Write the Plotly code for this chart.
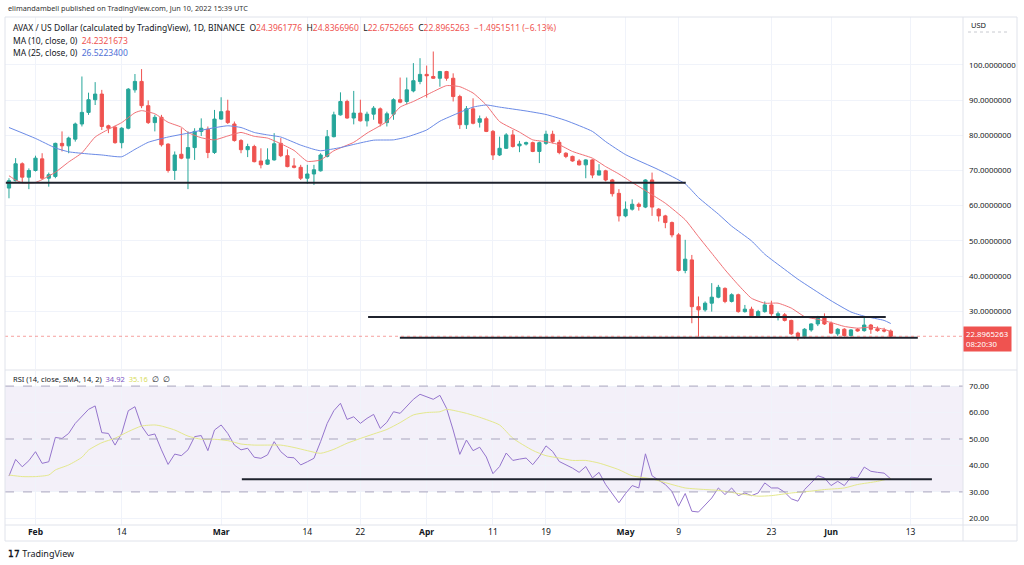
import pandas as pd
import plotly.graph_objects as go

# daily candles, Jan 28 - Jun 10 2022
dates = pd.date_range("2022-01-28", periods=134, freq="D")

opens = [65.0, 67.1, 71.9, 68.1, 70.0, 73.3, 67.8, 68.3, 77.7, 77.0,
         78.9, 83.2, 86.5, 90.1, 91.7, 82.7, 82.3, 77.9, 82.0, 92.9,
         95.3, 88.4, 83.6, 85.1, 77.5, 70.0, 74.6, 73.5, 76.5, 81.1,
         81.7, 75.1, 84.6, 86.9, 83.2, 78.5, 75.9, 76.8, 72.7, 71.8,
         73.0, 77.7, 74.2, 71.3, 70.9, 67.8, 69.0, 69.9, 74.0, 79.6,
         85.8, 89.6, 84.9, 86.3, 84.1, 86.0, 87.5, 83.6, 86.0, 90.1,
         89.6, 92.6, 95.3, 97.3, 96.7, 96.2, 98.1, 96.2, 91.0, 83.0,
         87.5, 83.7, 84.7, 81.1, 74.4, 76.3, 80.1, 77.0, 77.5, 77.9,
         75.4, 77.7, 80.3, 78.0, 74.9, 74.0, 72.7, 71.6, 73.0, 68.7,
         69.9, 67.3, 63.5, 57.1, 59.0, 60.4, 59.6, 67.3, 59.0, 57.1,
         55.2, 51.7, 41.6, 44.6, 31.3, 30.4, 32.3, 34.0, 36.5, 32.8,
         34.7, 29.9, 30.6, 28.7, 29.9, 31.8, 28.8, 29.0, 27.4, 23.8,
         22.8, 24.7, 26.4, 28.3, 26.6, 23.6, 24.9, 23.1, 24.9, 24.5,
         26.1, 25.0, 24.6, 24.3961776]
highs = [67.8, 73.5, 72.3, 70.6, 74.2, 74.9, 69.4, 77.9, 81.1, 79.6,
         83.6, 96.7, 92.1, 95.1, 92.9, 83.0, 82.7, 82.3, 93.4, 97.4,
         98.8, 89.9, 85.8, 85.8, 77.7, 75.4, 82.0, 81.1, 82.0, 84.8,
         82.5, 87.2, 90.8, 90.1, 83.9, 78.9, 77.6, 77.3, 76.3, 76.3,
         80.6, 79.2, 76.0, 73.5, 71.6, 71.6, 71.6, 74.9, 81.5, 86.7,
         92.2, 90.1, 92.6, 90.1, 86.7, 88.3, 87.9, 86.7, 90.5, 96.4,
         96.4, 100.5, 101.9, 99.8, 103.8, 98.3, 98.3, 97.6, 91.5, 88.3,
         90.5, 85.6, 85.3, 81.5, 79.6, 80.6, 81.5, 78.4, 78.2, 78.2,
         78.2, 81.3, 81.3, 78.7, 75.2, 74.2, 73.2, 73.2, 73.2, 71.8,
         70.2, 67.6, 64.7, 61.2, 61.8, 60.9, 67.5, 69.4, 59.3, 57.4,
         55.5, 52.2, 50.3, 46.0, 34.2, 32.8, 38.0, 37.5, 36.8, 35.1,
         35.0, 31.8, 31.3, 30.4, 32.8, 33.0, 29.9, 29.5, 27.6, 24.2,
         25.2, 26.6, 28.7, 29.4, 27.1, 25.2, 25.2, 24.9, 25.2, 28.5,
         26.4, 25.7, 25.3, 24.8366960]
lows = [62.1, 66.9, 66.6, 64.7, 69.7, 67.5, 65.4, 67.8, 75.4, 74.9,
        78.2, 82.5, 85.8, 88.6, 81.5, 80.6, 77.6, 76.3, 81.7, 92.1,
        87.7, 83.2, 81.1, 76.8, 69.4, 67.3, 73.2, 64.7, 73.0, 79.8,
        73.5, 74.7, 84.4, 83.2, 78.2, 74.9, 73.8, 72.3, 70.6, 71.6,
        72.8, 73.8, 70.9, 70.6, 67.3, 66.2, 65.9, 69.7, 73.7, 79.4,
        85.6, 84.7, 83.1, 83.9, 82.5, 84.4, 82.5, 82.5, 84.4, 89.1,
        88.8, 92.2, 94.5, 90.7, 96.0, 93.8, 95.5, 89.6, 81.8, 81.8,
        83.1, 82.2, 80.9, 73.0, 74.1, 76.1, 76.5, 75.2, 77.1, 75.2,
        72.1, 77.3, 77.7, 74.6, 73.5, 72.5, 71.4, 67.8, 67.8, 68.6,
        66.9, 62.6, 55.5, 56.7, 58.6, 58.6, 59.3, 57.1, 55.5, 53.6,
        51.0, 41.3, 40.8, 26.6, 22.8, 29.9, 29.9, 33.7, 32.3, 32.5,
        29.6, 29.6, 28.3, 28.5, 29.6, 28.7, 27.4, 27.1, 23.3, 21.7,
        22.3, 24.2, 25.8, 26.1, 23.6, 23.0, 22.8, 22.8, 24.2, 24.2,
        23.6, 24.2, 24.0, 22.6752665]
closes = [67.1, 71.9, 68.1, 70.0, 73.5, 67.8, 68.8, 77.7, 77.0, 79.2,
          83.2, 86.5, 90.1, 91.7, 82.5, 82.0, 77.9, 82.0, 93.1, 95.3,
          88.4, 83.6, 85.1, 77.3, 70.0, 74.4, 73.5, 76.5, 81.1, 82.0,
          75.1, 84.6, 86.7, 83.6, 78.5, 75.9, 76.8, 72.5, 71.6, 73.0,
          77.6, 74.2, 71.1, 70.9, 67.8, 69.0, 70.2, 74.4, 79.6, 85.8,
          89.6, 84.9, 86.3, 84.1, 86.0, 87.7, 83.4, 86.1, 90.1, 89.4,
          92.9, 95.5, 97.3, 96.9, 96.2, 98.1, 96.2, 91.0, 83.0, 87.5,
          83.4, 84.7, 81.1, 74.4, 76.3, 80.1, 76.8, 77.5, 77.9, 75.4,
          77.9, 80.3, 78.2, 75.1, 74.0, 72.7, 71.6, 73.0, 68.7, 69.9,
          67.3, 63.4, 57.1, 59.0, 60.4, 59.8, 67.3, 59.6, 57.1, 55.2,
          51.7, 41.6, 44.8, 31.3, 30.4, 32.3, 34.0, 36.8, 32.8, 34.7,
          29.9, 30.6, 28.7, 29.9, 31.8, 29.3, 29.3, 27.4, 23.6, 22.8,
          24.9, 26.4, 28.3, 26.4, 23.8, 24.9, 23.1, 24.7, 24.4, 26.1,
          24.9, 24.5, 24.4, 22.8965263]

# moving averages: (day index, value)
ma10_day = [0, 1, 2, 4, 5, 7, 9, 11, 13, 15, 17, 19, 20, 22, 24, 26, 27, 29, 31, 33,
            35, 37, 39, 41, 43, 45, 47, 49, 52, 54, 57, 59, 61, 64, 66, 68, 70, 72, 74, 77,
            79, 81, 83, 85, 88, 90, 92, 94, 97, 99, 102, 104, 106, 108, 110, 112, 114, 116,
            118, 120, 122, 124, 126, 128, 130, 132, 133]
ma10_val = [68.5, 67.3, 66.5, 66.6, 67.4, 69.5, 72.4, 75.0, 79.5, 81.7, 83.6, 86.4, 87.0,
            86.1, 83.7, 82.3, 80.8, 79.3, 78.7, 79.8, 80.8, 79.7, 79.2, 77.6, 75.7, 72.6,
            73.0, 75.6, 78.0, 80.6, 83.9, 88.0, 89.6, 92.4, 94.1, 93.8, 92.0, 88.6, 83.9,
            80.9, 78.7, 78.2, 77.3, 75.4, 73.5, 71.1, 69.0, 66.6, 63.1, 60.7, 56.0, 51.2,
            46.5, 41.8, 37.5, 33.7, 32.3, 32.3, 30.9, 28.5, 27.7, 26.8, 25.7, 25.2, 25.5,
            24.9, 24.23]
ma25_day = [0, 4, 7, 9, 12, 14, 17, 19, 21, 24, 27, 30, 33, 35, 37, 39, 41, 44, 46, 47,
            50, 52, 55, 58, 60, 63, 65, 68, 70, 72, 74, 78, 81, 84, 88, 90, 93, 98, 102, 104,
            107, 109, 112, 114, 117, 119, 122, 124, 127, 129, 132, 133]
ma25_val = [82.2, 79.1, 76.4, 75.3, 74.7, 74.4, 73.9, 76.0, 78.0, 79.5, 80.6, 81.8, 82.7,
            82.2, 80.8, 80.1, 79.5, 77.2, 76.0, 75.6, 76.5, 77.4, 78.6, 78.7, 79.5, 81.5,
            84.0, 86.5, 88.0, 88.6, 88.0, 86.9, 85.9, 84.2, 81.1, 78.2, 74.5, 70.2, 66.2,
            62.3, 57.6, 54.2, 50.0, 46.2, 41.9, 39.1, 35.4, 33.0, 29.8, 28.6, 27.4, 26.52]

# RSI(14) per day and its SMA(14) samples
rsi = [36.0, 42.3, 39.5, 41.8, 45.2, 40.8, 41.4, 50.6, 50.2, 52.1,
       55.9, 58.4, 61.2, 62.5, 52.4, 52.1, 47.7, 52.1, 60.7, 62.2,
       54.9, 51.3, 51.9, 45.9, 40.4, 44.3, 43.7, 45.9, 50.9, 51.3,
       45.6, 53.4, 55.3, 52.1, 47.7, 45.9, 46.5, 43.1, 42.7, 44.0,
       49.0, 45.2, 43.1, 42.9, 40.2, 41.4, 42.7, 49.0, 55.9, 60.7,
       63.5, 57.4, 58.4, 55.9, 57.8, 59.3, 54.0, 56.3, 60.3, 59.7,
       62.2, 65.0, 66.9, 66.0, 65.0, 66.5, 61.6, 53.4, 44.2, 49.6,
       45.6, 46.9, 43.2, 36.9, 39.6, 44.7, 41.9, 42.4, 42.8, 40.3,
       43.4, 47.4, 45.3, 41.5, 40.3, 39.0, 37.4, 39.6, 35.3, 37.4,
       32.8, 29.4, 25.9, 29.4, 32.4, 31.5, 44.4, 36.1, 34.6, 32.8,
       30.2, 24.6, 29.4, 22.7, 22.4, 25.2, 27.7, 31.5, 29.0, 31.5,
       28.6, 29.6, 28.6, 29.6, 33.4, 31.5, 31.5, 29.9, 27.4, 26.5,
       30.9, 33.4, 36.1, 35.3, 32.4, 34.0, 32.4, 35.6, 35.3, 39.4,
       37.8, 37.4, 37.1, 34.92]
rsi_ma_day = [0, 2, 4, 6, 7, 9, 11, 12, 14, 16, 18, 20, 22, 23, 25, 27, 29, 31, 33, 35,
              37, 39, 41, 43, 45, 47, 49, 51, 53, 55, 57, 59, 61, 63, 65, 66, 68, 69, 71, 74,
              76, 79, 81, 83, 85, 87, 89, 92, 94, 97, 100, 102, 105, 107, 110, 113, 115, 118,
              121, 123, 126, 128, 131, 133]
rsi_ma_val = [36.4, 35.8, 35.8, 36.4, 38.3, 40.2, 43.1, 45.8, 48.6, 50.3, 52.8, 54.9, 55.3,
              54.9, 53.4, 51.1, 49.9, 49.9, 49.4, 48.1, 47.7, 47.7, 47.7, 46.8, 45.6, 44.6,
              46.1, 48.4, 50.2, 51.9, 53.6, 56.2, 59.1, 60.0, 60.3, 61.2, 60.3, 59.7, 58.2,
              55.3, 50.3, 45.7, 43.7, 42.8, 41.9, 41.9, 40.9, 38.4, 36.1, 34.9, 32.8, 31.5,
              30.9, 30.6, 29.4, 28.4, 28.6, 29.6, 30.3, 30.9, 31.5, 32.8, 34.0, 35.16]

# hand-drawn horizontal levels
price_levels = [66.5, 28.4, 22.5]
price_level_start = ["2022-01-27 12:00", "2022-03-23 04:00", "2022-03-27 23:00"]
price_level_end = ["2022-05-10 02:00", "2022-06-09 06:00", "2022-06-14 02:00"]
rsi_level = 34.8
rsi_level_start, rsi_level_end = "2022-03-04 03:00", "2022-06-16 05:00"

price_ticks = [30, 40, 50, 60, 70, 80, 90, 100]
rsi_ticks = [20, 30, 40, 50, 60, 70]
date_ticks = ["2022-02-01", "2022-02-14", "2022-03-01", "2022-03-14", "2022-03-22",
              "2022-04-01", "2022-04-11", "2022-04-19", "2022-05-01", "2022-05-09",
              "2022-05-23", "2022-06-01", "2022-06-13"]
date_labels = ["<b>Feb</b>", "14", "<b>Mar</b>", "14", "22", "<b>Apr</b>", "11", "19",
               "<b>May</b>", "9", "23", "<b>Jun</b>", "13"]

UP, DOWN = "#26a69a", "#ef5350"
GRID = "#f0f3fa"
BORDER = "#e0e3eb"
TXT = "#131722"
FONT = "Noto Sans"
W, H = 1024, 565


def px(x):
    return x / W


def py(y):
    return 1 - y / H


fig = go.Figure()

fig.add_trace(go.Candlestick(
    x=dates, open=opens, high=highs, low=lows, close=closes,
    increasing=dict(line=dict(color=UP, width=1), fillcolor=UP),
    decreasing=dict(line=dict(color=DOWN, width=1), fillcolor=DOWN),
    whiskerwidth=0, xaxis="x", yaxis="y", showlegend=False, hoverinfo="skip"))

fig.add_trace(go.Scatter(x=[dates[d] for d in ma10_day], y=ma10_val, mode="lines",
                         line=dict(color="#f07075", width=1, shape="spline", smoothing=0.5),
                         xaxis="x", yaxis="y", showlegend=False, hoverinfo="skip"))
fig.add_trace(go.Scatter(x=[dates[d] for d in ma25_day], y=ma25_val, mode="lines",
                         line=dict(color="#6a8ae6", width=1, shape="spline", smoothing=0.5),
                         xaxis="x", yaxis="y", showlegend=False, hoverinfo="skip"))

for lvl, x0, x1 in zip(price_levels, price_level_start, price_level_end):
    fig.add_trace(go.Scatter(x=[x0, x1], y=[lvl, lvl], mode="lines",
                             line=dict(color="#1e222d", width=2),
                             xaxis="x", yaxis="y", showlegend=False, hoverinfo="skip"))

fig.add_trace(go.Scatter(x=dates, y=rsi, mode="lines", line=dict(color="#9575cd", width=1),
                         xaxis="x2", yaxis="y2", showlegend=False, hoverinfo="skip"))
fig.add_trace(go.Scatter(x=[dates[d] for d in rsi_ma_day], y=rsi_ma_val, mode="lines",
                         line=dict(color="#e4e88c", width=1, shape="spline", smoothing=0.6),
                         xaxis="x2", yaxis="y2", showlegend=False, hoverinfo="skip"))
fig.add_trace(go.Scatter(x=[rsi_level_start, rsi_level_end], y=[rsi_level, rsi_level],
                         mode="lines", line=dict(color="#1e222d", width=2),
                         xaxis="x2", yaxis="y2", showlegend=False, hoverinfo="skip"))

shapes = [
    # RSI band and its dashed bounds
    dict(type="rect", xref="x2 domain", yref="y2", x0=0, x1=1, y0=30, y1=70,
         fillcolor="rgba(126,87,194,0.09)", line_width=0, layer="below"),
]
for lvl in (70, 50, 30):
    shapes.append(dict(type="line", xref="x2 domain", yref="y2", x0=0, x1=1, y0=lvl, y1=lvl,
                       line=dict(color="#a9a4bd", width=1, dash="dash")))
# last price dotted line
shapes.append(dict(type="line", xref="x domain", yref="y", x0=0, x1=1,
                   y0=closes[-1], y1=closes[-1],
                   line=dict(color="rgba(239,83,80,0.55)", width=1, dash="dot")))
# frame / pane separators
shapes += [
    dict(type="rect", xref="paper", yref="paper", x0=px(5), x1=px(1017), y0=py(541), y1=py(17),
         line=dict(color=BORDER, width=1)),
    dict(type="line", xref="paper", yref="paper", x0=px(963), x1=px(963), y0=py(541), y1=py(17),
         line=dict(color=BORDER, width=1)),
    dict(type="line", xref="paper", yref="paper", x0=px(5), x1=px(1017), y0=py(370), y1=py(370),
         line=dict(color=BORDER, width=1)),
    dict(type="line", xref="paper", yref="paper", x0=px(5), x1=px(1017), y0=py(525), y1=py(525),
         line=dict(color=BORDER, width=1)),
    dict(type="line", xref="paper", yref="paper", x0=px(968), x1=px(1010), y0=py(32), y1=py(32),
         line=dict(color="#c8cad0", width=1, dash="dot")),
]

red = lambda s: f"<span style='color:{DOWN}'>{s}</span>"
ohlc = (f"AVAX / US Dollar (calculated by TradingView), 1D, BINANCE  "
        f"O{red(f'{opens[-1]:.7f}')}  H{red(f'{highs[-1]:.7f}')}  "
        f"L{red(f'{lows[-1]:.7f}')}  C{red(f'{closes[-1]:.7f}')}  {red('−1.4951511 (−6.13%)')}")

ann = [
    dict(text="elimandambell published on TradingView.com, Jun 10, 2022 15:39 UTC",
         x=px(6), y=py(8), font=dict(size=7.3, color="#333")),
    dict(text=ohlc, x=px(11), y=py(28), font=dict(size=8.5, color=TXT)),
    dict(text=f"MA (10, close, 0)  {red('24.2321673')}", x=px(11), y=py(40),
         font=dict(size=8.5, color=TXT)),
    dict(text="MA (25, close, 0)  <span style='color:#4f6fd6'>26.5223400</span>", x=px(11), y=py(52),
         font=dict(size=8.5, color=TXT)),
    dict(text="RSI (14, close, SMA, 14, 2)  <span style='color:#7e57c2'>34.92</span>  "
              "<span style='color:#d8dc5c'>35.16</span>  ∅  ∅",
         x=px(11), y=py(379), font=dict(size=7.5, color=TXT)),
    dict(text="USD", x=px(969), y=py(25), font=dict(size=7.5, color=TXT)),
    dict(text="<b>𝟣𝟩</b> TradingView", x=px(6), y=py(553), font=dict(size=9, color="#131722")),
]
for a in ann:
    a.update(xref="paper", yref="paper", xanchor="left", yanchor="middle", showarrow=False)
ann.append(dict(text=f"{closes[-1]:.7f}<br>08:20:30", xref="paper", yref="y", x=px(963),
                y=closes[-1], xanchor="left", yanchor="middle", yshift=-3, showarrow=False,
                align="left", bgcolor=DOWN, borderpad=2, font=dict(size=7.8, color="white")))

axis_common = dict(showline=False, zeroline=False, ticks="", gridcolor=GRID, gridwidth=1)
fig.update_layout(
    width=W, height=H, margin=dict(l=0, r=0, t=0, b=0),
    paper_bgcolor="white", plot_bgcolor="white",
    font=dict(family=FONT, color=TXT),
    shapes=shapes, annotations=ann, showlegend=False,
    xaxis=dict(domain=[px(5), px(963)], anchor="y",
               range=["2022-01-27 09:36", "2022-06-20 21:36"],
               tickvals=date_ticks, showticklabels=False,
               rangeslider=dict(visible=False), **axis_common),
    xaxis2=dict(domain=[px(5), px(963)], anchor="y2", matches="x",
                tickvals=date_ticks, ticktext=date_labels,
                tickfont=dict(size=8.5, color=TXT), **axis_common),
    yaxis=dict(domain=[py(369), py(17)], anchor="x", side="right", range=[13.6, 113.6],
               tickvals=price_ticks, ticktext=[f"{v:.7f}" for v in price_ticks],
               tickfont=dict(size=7.8, color=TXT), ticklabelstandoff=5, **axis_common),
    yaxis2=dict(domain=[py(525), py(371)], anchor="x2", side="right", range=[17.5, 75.7],
                tickvals=rsi_ticks, ticktext=[f"{v:.2f}" for v in rsi_ticks],
                tickfont=dict(size=7.8, color=TXT), ticklabelstandoff=5, **axis_common),
)

# the page body has a default 8px margin; drop it so the figure fills the window
fig.write_html("out.html", config={"displayModeBar": False},
               post_script="document.body.style.margin='0';"
                           "document.body.style.overflow='hidden';")
